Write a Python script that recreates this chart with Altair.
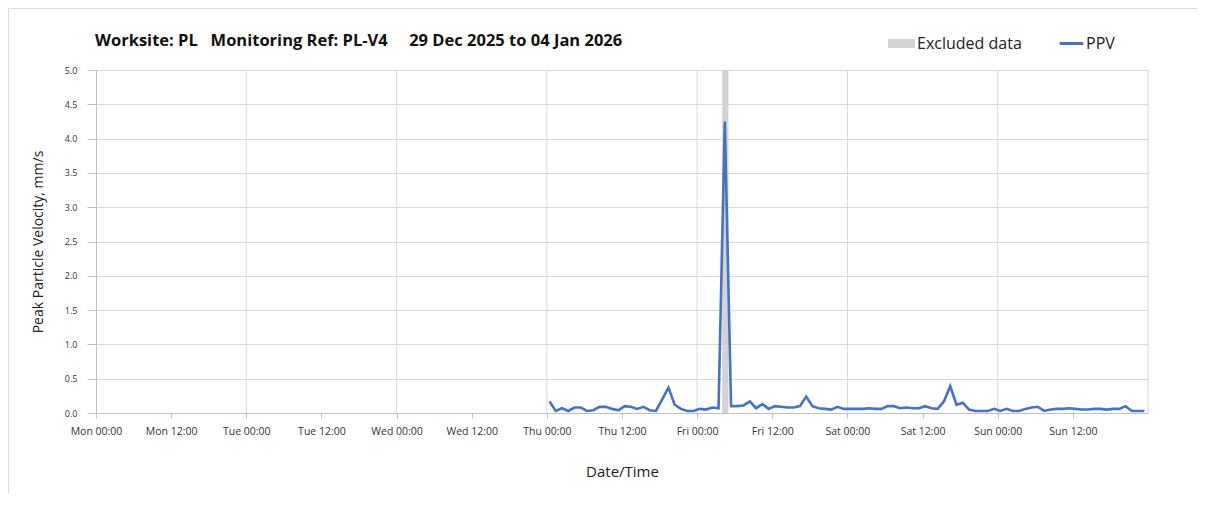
import altair as alt
import pandas as pd

# PPV readings, hourly from Thu 01 Jan 2026 00:25 (mm/s)
ppv = [
    0.17, 0.03, 0.07, 0.03, 0.08, 0.08, 0.03, 0.04, 0.09, 0.09, 0.06, 0.04,
    0.10, 0.09, 0.06, 0.09, 0.04, 0.03, 0.20, 0.37, 0.12, 0.06, 0.03, 0.03,
    0.06, 0.05, 0.08, 0.07, 4.25, 0.10, 0.10, 0.11, 0.17, 0.07, 0.13, 0.06,
    0.10, 0.09, 0.08, 0.08, 0.10, 0.24, 0.10, 0.07, 0.06, 0.05, 0.09, 0.06,
    0.06, 0.06, 0.06, 0.07, 0.06, 0.06, 0.10, 0.10, 0.07, 0.08, 0.07, 0.07,
    0.10, 0.07, 0.06, 0.17, 0.39, 0.12, 0.15, 0.05, 0.03, 0.03, 0.03, 0.06,
    0.03, 0.06, 0.03, 0.03, 0.06, 0.08, 0.09, 0.03, 0.05, 0.06, 0.06, 0.07,
    0.06, 0.05, 0.05, 0.06, 0.06, 0.05, 0.06, 0.06, 0.10, 0.03, 0.03, 0.03,
]
times = pd.date_range("2026-01-01 00:25", periods=len(ppv), freq="h")

excl_start = ["2026-01-02 04:00"]
excl_end = ["2026-01-02 05:00"]
excl_label = ["Excluded data"]
series_label = ["PPV"]

grid_days = ["2025-12-30", "2025-12-31", "2026-01-01", "2026-01-02",
             "2026-01-03", "2026-01-04", "2026-01-05"]

# x tick positions (every 12 h), Mon 29 Dec .. Sun 04 Jan 12:00
tick_dates = [(2025, 12, 29), (2025, 12, 30), (2025, 12, 31), (2026, 1, 1),
              (2026, 1, 2), (2026, 1, 3), (2026, 1, 4)]
tick_hours = [0, 12]

NB = "\u00a0"
title_text = ("Worksite: PL" + NB * 3 + "Monitoring Ref: PL-V4" + NB * 5 +
              "29 Dec 2025 to 04 Jan 2026")

df = pd.DataFrame({"time": times.strftime("%Y-%m-%dT%H:%M:%S"), "ppv": ppv,
                   "series": series_label * len(ppv)})
ex = pd.DataFrame({"start": excl_start, "end": excl_end, "label": excl_label})
gd = pd.DataFrame({"day": grid_days})
frame_df = pd.DataFrame({"k": [0]})

tick_values = [alt.DateTime(year=y, month=m, date=d, hours=h)
               for (y, m, d) in tick_dates for h in tick_hours]

FONT = "Open Sans"
GRID = "#d9d9d9"

x_scale = alt.Scale(domain=[alt.DateTime(year=2025, month=12, date=29, hours=0),
                            alt.DateTime(year=2026, month=1, date=5, hours=0)])
y_scale = alt.Scale(domain=[0, 5], nice=False)

x_axis = alt.Axis(
    title="Date/Time",
    values=tick_values,
    format="%a %H:%M",
    grid=False,
    domainColor="#bfbfbf",
    tickColor="#bfbfbf",
    tickSize=5,
    labelPadding=8,
    labelFontSize=10.5,
    labelColor="#333333",
    labelFlush=False,
    titleFontSize=15,
    titleFontWeight="normal",
    titleColor="#222222",
    titlePadding=28,
)
y_axis = alt.Axis(
    title="Peak Particle Velocity, mm/s",
    values=[0, 0.5, 1, 1.5, 2, 2.5, 3, 3.5, 4, 4.5, 5],
    format=".1f",
    gridColor=GRID,
    domainColor="#bfbfbf",
    tickColor="#bfbfbf",
    tickSize=9,
    labelPadding=10,
    labelFontSize=9,
    labelColor="#333333",
    titleFontSize=14,
    titleFontWeight="normal",
    titleColor="#222222",
    titlePadding=19,
)

# light frame around the whole figure (only its top and left edges fall on the page)
frame = alt.Chart(frame_df).mark_rect(fillOpacity=0, stroke="#dddddd", strokeWidth=1).encode(
    x=alt.value(-87.5), x2=alt.value(1130), y=alt.value(-61.5), y2=alt.value(450)
)

grid = alt.Chart(gd).mark_rule(color=GRID, strokeWidth=1).encode(
    x=alt.X("day:T", scale=x_scale, axis=x_axis),
)

band = alt.Chart(ex).mark_rect().encode(
    x=alt.X("start:T", scale=x_scale),
    x2="end:T",
    y=alt.value(0),
    y2=alt.value(343),
    fill=alt.Fill("label:N",
                  scale=alt.Scale(domain=excl_label, range=["#d3d3d3"]),
                  legend=alt.Legend(title=None, orient="none", legendX=792, legendY=-40,
                                    symbolType="M-1,-0.33H1V0.33H-1Z", symbolSize=729,
                                    symbolStrokeWidth=0, labelFontSize=16, labelColor="#222222",
                                    labelOffset=2, labelFont=FONT)),
)

line = alt.Chart(df).mark_line(strokeWidth=2.6, clip=True).encode(
    x=alt.X("time:T", scale=x_scale),
    y=alt.Y("ppv:Q", scale=y_scale, axis=y_axis),
    stroke=alt.Stroke("series:N",
                      scale=alt.Scale(domain=series_label, range=["#4472c4"]),
                      legend=alt.Legend(title=None, orient="none", legendX=962, legendY=-40,
                                        symbolType="stroke", symbolSize=560, symbolStrokeWidth=3,
                                        labelFontSize=16, labelColor="#222222",
                                        labelOffset=1, labelFont=FONT)),
)

chart = alt.layer(frame, grid, band, line).resolve_scale(
    fill="independent", stroke="independent"
).properties(
    width=1052,
    height=343,
    autosize=alt.AutoSizeParams(type="none"),
    padding={"left": 88, "top": 62, "right": 50, "bottom": 80},
    background="white",
    title=alt.TitleParams(title_text, anchor="start", frame="group", fontSize=16.5,
                          fontWeight="bold", font=FONT, color="#111111", offset=-41, dx=-1),
).configure_view(stroke=None).configure_axis(
    labelFont=FONT, titleFont=FONT
)

chart.save("out.html", embed_options={"renderer": "svg", "actions": False})
